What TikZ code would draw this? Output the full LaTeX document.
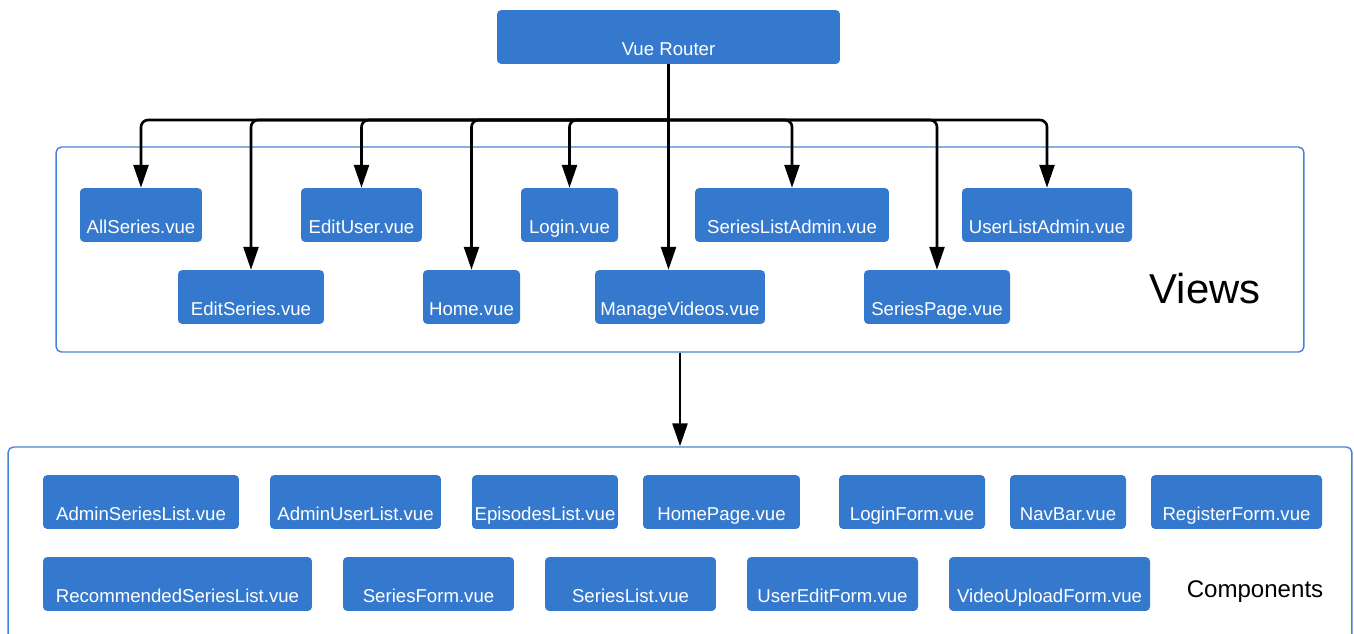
\documentclass[tikz,border=0pt]{standalone}
\usepackage{fontspec}
\setmainfont{Liberation Sans}
\usetikzlibrary{arrows.meta}

\definecolor{boxblue}{RGB}{52,121,205}
\definecolor{frameblue}{RGB}{70,130,215}

\tikzset{
    filebox/.style={draw=none,fill=boxblue,text=white,rounded corners=2.3pt,
        inner xsep=0pt,inner ysep=0pt,minimum height=30.6pt,
        text height=26.1pt,text depth=4.5pt,font=\fontsize{10.6}{12}\selectfont},
    framebox/.style={draw=frameblue,line width=0.8pt,rounded corners=3pt,fill=none},
    conn/.style={line width=1.5pt,-{Triangle[length=0.46cm,width=0.3cm]},rounded corners=4pt}
}

\begin{document}
\begin{tikzpicture}[x=0.02cm,y=-0.02cm]

    \useasboundingbox (0,0) rectangle (1354,633);

    % ============================================
    % ROUTER
    % ============================================

    \node[filebox,minimum width=6.86cm] (router) at (668.5,37) {Vue Router};

    % ============================================
    % VIEWS
    % ============================================

    \node[framebox,minimum width=24.96cm,minimum height=4.10cm] (views) at (680,249.5) {};

    % first row
    \node[filebox,minimum width=2.44cm] (allseries) at (141,215) {AllSeries.vue};
    \node[filebox,minimum width=2.42cm] (edituser) at (361.5,215) {EditUser.vue};
    \node[filebox,minimum width=1.94cm] (login) at (569.5,215) {Login.vue};
    \node[filebox,minimum width=3.88cm] (serieslistadmin) at (792,215) {SeriesListAdmin.vue};
    \node[filebox,minimum width=3.40cm] (userlistadmin) at (1047,215) {UserListAdmin.vue};

    % second row
    \node[filebox,minimum width=2.92cm] (editseries) at (251,297) {EditSeries.vue};
    \node[filebox,minimum width=1.94cm] (home) at (471.5,297) {Home.vue};
    \node[filebox,minimum width=3.40cm] (managevideos) at (680,297) {ManageVideos.vue};
    \node[filebox,minimum width=2.92cm] (seriespage) at (937,297) {SeriesPage.vue};

    \node[font=\fontsize{23.8}{28}\selectfont] (viewslabel) at (1205,289) {Views};

    % ============================================
    % Router -> views
    % ============================================

    \coordinate (bus) at (668.5,120);

    \draw[line width=1.5pt] (router.south) -- (bus);
    \draw[conn] (bus) -| (allseries.north);
    \draw[conn] (bus) -| (editseries.north);
    \draw[conn] (bus) -| (edituser.north);
    \draw[conn] (bus) -| (home.north);
    \draw[conn] (bus) -| (login.north);
    \draw[conn] (bus) -- (bus |- managevideos.north);
    \draw[conn] (bus) -| (serieslistadmin.north);
    \draw[conn] (bus) -| (seriespage.north);
    \draw[conn] (bus) -| (userlistadmin.north);

    % ============================================
    % COMPONENTS
    % ============================================

    \node[framebox,minimum width=26.88cm,minimum height=4.12cm] (components) at (680,550) {};

    % first row
    \node[filebox,minimum width=3.92cm] (adminserieslist) at (141,502) {AdminSeriesList.vue};
    \node[filebox,minimum width=3.42cm] (adminuserlist) at (355.5,502) {AdminUserList.vue};
    \node[filebox,minimum width=2.92cm] (episodeslist) at (545,502) {EpisodesList.vue};
    \node[filebox,minimum width=3.14cm] (homepage) at (721.5,502) {HomePage.vue};
    \node[filebox,minimum width=2.92cm] (loginform) at (912,502) {LoginForm.vue};
    \node[filebox,minimum width=2.32cm] (navbar) at (1068,502) {NavBar.vue};
    \node[filebox,minimum width=3.42cm] (registerform) at (1236.5,502) {RegisterForm.vue};

    % second row
    \node[filebox,minimum width=5.38cm] (recommended) at (177.5,584) {RecommendedSeriesList.vue};
    \node[filebox,minimum width=3.42cm] (seriesform) at (428.5,584) {SeriesForm.vue};
    \node[filebox,minimum width=3.42cm] (serieslist) at (630.5,584) {SeriesList.vue};
    \node[filebox,minimum width=3.42cm] (usereditform) at (832.5,584) {UserEditForm.vue};
    \node[filebox,minimum width=4.02cm] (videoupload) at (1049.5,584) {VideoUploadForm.vue};

    \node[font=\fontsize{13.7}{16}\selectfont] (complabel) at (1255,592) {Components};

    % Views -> components
    \draw[conn] (views.south) -- (components.north);

\end{tikzpicture}
\end{document}
